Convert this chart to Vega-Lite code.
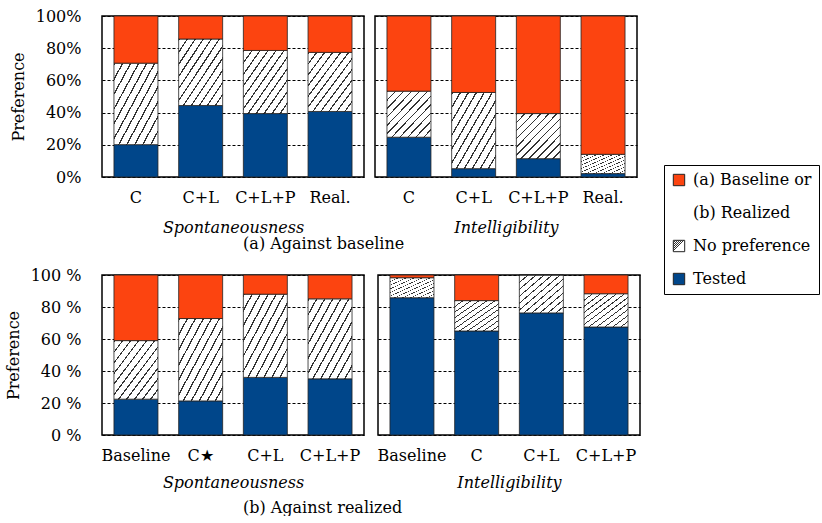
{
  "$schema": "https://vega.github.io/schema/vega-lite/v6.json",
  "padding": {"left": 4, "top": 7, "right": 0, "bottom": 0},
  "background": "white",
  "params": [
    {"name": "hatch", "expr": "{gradient: 'linear', x1: 0, y1: 0, x2: 1, y2: 1, stops: [{offset: 0, color: '#333'}, {offset: 0.0164, color: '#333'}, {offset: 0.0164, color: 'white'}, {offset: 0.0909, color: 'white'}, {offset: 0.0909, color: '#333'}, {offset: 0.1073, color: '#333'}, {offset: 0.1073, color: 'white'}, {offset: 0.1818, color: 'white'}, {offset: 0.1818, color: '#333'}, {offset: 0.1982, color: '#333'}, {offset: 0.1982, color: 'white'}, {offset: 0.2727, color: 'white'}, {offset: 0.2727, color: '#333'}, {offset: 0.2891, color: '#333'}, {offset: 0.2891, color: 'white'}, {offset: 0.3636, color: 'white'}, {offset: 0.3636, color: '#333'}, {offset: 0.38, color: '#333'}, {offset: 0.38, color: 'white'}, {offset: 0.4545, color: 'white'}, {offset: 0.4545, color: '#333'}, {offset: 0.4709, color: '#333'}, {offset: 0.4709, color: 'white'}, {offset: 0.5455, color: 'white'}, {offset: 0.5455, color: '#333'}, {offset: 0.5619, color: '#333'}, {offset: 0.5619, color: 'white'}, {offset: 0.6364, color: 'white'}, {offset: 0.6364, color: '#333'}, {offset: 0.6528, color: '#333'}, {offset: 0.6528, color: 'white'}, {offset: 0.7273, color: 'white'}, {offset: 0.7273, color: '#333'}, {offset: 0.7437, color: '#333'}, {offset: 0.7437, color: 'white'}, {offset: 0.8182, color: 'white'}, {offset: 0.8182, color: '#333'}, {offset: 0.8346, color: '#333'}, {offset: 0.8346, color: 'white'}, {offset: 0.9091, color: 'white'}, {offset: 0.9091, color: '#333'}, {offset: 0.9255, color: '#333'}, {offset: 0.9255, color: 'white'}, {offset: 1, color: 'white'}]}"}
  ],
  "datasets": {
    "prefs": [
      {"panel": "A1", "method": "C", "cat": "Tested", "o": 1, "p": 0.201},
      {"panel": "A1", "method": "C", "cat": "No preference", "o": 2, "p": 0.506},
      {"panel": "A1", "method": "C", "cat": "Baseline/Realized", "o": 3, "p": 0.293},
      {"panel": "A1", "method": "C+L", "cat": "Tested", "o": 1, "p": 0.444},
      {"panel": "A1", "method": "C+L", "cat": "No preference", "o": 2, "p": 0.413},
      {"panel": "A1", "method": "C+L", "cat": "Baseline/Realized", "o": 3, "p": 0.143},
      {"panel": "A1", "method": "C+L+P", "cat": "Tested", "o": 1, "p": 0.394},
      {"panel": "A1", "method": "C+L+P", "cat": "No preference", "o": 2, "p": 0.392},
      {"panel": "A1", "method": "C+L+P", "cat": "Baseline/Realized", "o": 3, "p": 0.214},
      {"panel": "A1", "method": "Real.", "cat": "Tested", "o": 1, "p": 0.407},
      {"panel": "A1", "method": "Real.", "cat": "No preference", "o": 2, "p": 0.367},
      {"panel": "A1", "method": "Real.", "cat": "Baseline/Realized", "o": 3, "p": 0.226},
      {"panel": "A2", "method": "C", "cat": "Tested", "o": 1, "p": 0.247},
      {"panel": "A2", "method": "C", "cat": "No preference", "o": 2, "p": 0.286},
      {"panel": "A2", "method": "C", "cat": "Baseline/Realized", "o": 3, "p": 0.467},
      {"panel": "A2", "method": "C+L", "cat": "Tested", "o": 1, "p": 0.052},
      {"panel": "A2", "method": "C+L", "cat": "No preference", "o": 2, "p": 0.473},
      {"panel": "A2", "method": "C+L", "cat": "Baseline/Realized", "o": 3, "p": 0.475},
      {"panel": "A2", "method": "C+L+P", "cat": "Tested", "o": 1, "p": 0.114},
      {"panel": "A2", "method": "C+L+P", "cat": "No preference", "o": 2, "p": 0.28},
      {"panel": "A2", "method": "C+L+P", "cat": "Baseline/Realized", "o": 3, "p": 0.606},
      {"panel": "A2", "method": "Real.", "cat": "Tested", "o": 1, "p": 0.021},
      {"panel": "A2", "method": "Real.", "cat": "No preference", "o": 2, "p": 0.12},
      {"panel": "A2", "method": "Real.", "cat": "Baseline/Realized", "o": 3, "p": 0.859},
      {"panel": "B1", "method": "Baseline", "cat": "Tested", "o": 1, "p": 0.224},
      {"panel": "B1", "method": "Baseline", "cat": "No preference", "o": 2, "p": 0.366},
      {"panel": "B1", "method": "Baseline", "cat": "Baseline/Realized", "o": 3, "p": 0.41},
      {"panel": "B1", "method": "C★", "cat": "Tested", "o": 1, "p": 0.213},
      {"panel": "B1", "method": "C★", "cat": "No preference", "o": 2, "p": 0.515},
      {"panel": "B1", "method": "C★", "cat": "Baseline/Realized", "o": 3, "p": 0.272},
      {"panel": "B1", "method": "C+L", "cat": "Tested", "o": 1, "p": 0.36},
      {"panel": "B1", "method": "C+L", "cat": "No preference", "o": 2, "p": 0.52},
      {"panel": "B1", "method": "C+L", "cat": "Baseline/Realized", "o": 3, "p": 0.12},
      {"panel": "B1", "method": "C+L+P", "cat": "Tested", "o": 1, "p": 0.351},
      {"panel": "B1", "method": "C+L+P", "cat": "No preference", "o": 2, "p": 0.5},
      {"panel": "B1", "method": "C+L+P", "cat": "Baseline/Realized", "o": 3, "p": 0.149},
      {"panel": "B2", "method": "Baseline", "cat": "Tested", "o": 1, "p": 0.858},
      {"panel": "B2", "method": "Baseline", "cat": "No preference", "o": 2, "p": 0.125},
      {"panel": "B2", "method": "Baseline", "cat": "Baseline/Realized", "o": 3, "p": 0.017},
      {"panel": "B2", "method": "C", "cat": "Tested", "o": 1, "p": 0.65},
      {"panel": "B2", "method": "C", "cat": "No preference", "o": 2, "p": 0.19},
      {"panel": "B2", "method": "C", "cat": "Baseline/Realized", "o": 3, "p": 0.16},
      {"panel": "B2", "method": "C+L", "cat": "Tested", "o": 1, "p": 0.763},
      {"panel": "B2", "method": "C+L", "cat": "No preference", "o": 2, "p": 0.237},
      {"panel": "B2", "method": "C+L", "cat": "Baseline/Realized", "o": 3, "p": 0},
      {"panel": "B2", "method": "C+L+P", "cat": "Tested", "o": 1, "p": 0.675},
      {"panel": "B2", "method": "C+L+P", "cat": "No preference", "o": 2, "p": 0.208},
      {"panel": "B2", "method": "C+L+P", "cat": "Baseline/Realized", "o": 3, "p": 0.117}
    ]
  },
  "vconcat": [
    {
      "title": {"text": "(a) Against baseline", "orient": "bottom", "anchor": "middle", "offset": 0},
      "spacing": 9,
      "resolve": {"scale": {"x": "independent"}},
      "hconcat": [
        {
          "width": 262, "height": 161,
          "data": {"name": "prefs"},
          "transform": [{"filter": "datum.panel === 'A1'"}],
          "mark": {"type": "bar", "strokeWidth": 0.8},
          "encoding": {
            "x": {"field": "method", "type": "nominal", "sort": null, "scale": {"paddingInner": 0.32, "paddingOuter": 0.185}, "axis": {"title": "Spontaneousness"}},
            "y": {"field": "p", "type": "quantitative", "stack": "zero", "scale": {"domain": [0, 1]}, "axis": {"title": "Preference", "labelExpr": "round(datum.value*10) % 2 === 0 ? round(datum.value*100) + '%' : ''"}},
            "fill": {"field": "cat", "type": "nominal", "scale": {"domain": ["Baseline/Realized", "(b) Realized", "No preference", "Tested"], "range": ["#FC4410", "transparent", {"expr": "hatch"}, "#00468A"]}, "legend": {"labelExpr": "datum.label === 'Baseline/Realized' ? '(a) Baseline or' : datum.label"}},
            "stroke": {"field": "cat", "type": "nominal", "scale": {"domain": ["Baseline/Realized", "(b) Realized", "No preference", "Tested"], "range": ["#222222", "transparent", "#222222", "#222222"]}, "legend": {"labelExpr": "datum.label === 'Baseline/Realized' ? '(a) Baseline or' : datum.label"}},
            "order": {"field": "o", "type": "quantitative"}
          }
        },
        {
          "width": 262, "height": 161,
          "data": {"name": "prefs"},
          "transform": [{"filter": "datum.panel === 'A2'"}],
          "mark": {"type": "bar", "strokeWidth": 0.8},
          "encoding": {
            "x": {"field": "method", "type": "nominal", "sort": null, "scale": {"paddingInner": 0.32, "paddingOuter": 0.185}, "axis": {"title": "Intelligibility"}},
            "y": {"field": "p", "type": "quantitative", "stack": "zero", "scale": {"domain": [0, 1]}, "axis": {"title": null, "labels": false}},
            "fill": {"field": "cat", "type": "nominal", "scale": {"domain": ["Baseline/Realized", "(b) Realized", "No preference", "Tested"], "range": ["#FC4410", "transparent", {"expr": "hatch"}, "#00468A"]}, "legend": {"labelExpr": "datum.label === 'Baseline/Realized' ? '(a) Baseline or' : datum.label"}},
            "stroke": {"field": "cat", "type": "nominal", "scale": {"domain": ["Baseline/Realized", "(b) Realized", "No preference", "Tested"], "range": ["#222222", "transparent", "#222222", "#222222"]}, "legend": {"labelExpr": "datum.label === 'Baseline/Realized' ? '(a) Baseline or' : datum.label"}},
            "order": {"field": "o", "type": "quantitative"}
          }
        }
      ]
    },
    {
      "title": {"text": "(b) Against realized", "orient": "bottom", "anchor": "middle", "offset": 9},
      "spacing": 11,
      "resolve": {"scale": {"x": "independent"}},
      "hconcat": [
        {
          "width": 262, "height": 160,
          "data": {"name": "prefs"},
          "transform": [{"filter": "datum.panel === 'B1'"}],
          "mark": {"type": "bar", "strokeWidth": 0.8},
          "encoding": {
            "x": {"field": "method", "type": "nominal", "sort": null, "scale": {"paddingInner": 0.32, "paddingOuter": 0.185}, "axis": {"title": "Spontaneousness", "titlePadding": 11}},
            "y": {"field": "p", "type": "quantitative", "stack": "zero", "scale": {"domain": [0, 1]}, "axis": {"title": "Preference", "labelExpr": "round(datum.value*10) % 2 === 0 ? round(datum.value*100) + ' %' : ''"}},
            "fill": {"field": "cat", "type": "nominal", "scale": {"domain": ["Baseline/Realized", "(b) Realized", "No preference", "Tested"], "range": ["#FC4410", "transparent", {"expr": "hatch"}, "#00468A"]}, "legend": {"labelExpr": "datum.label === 'Baseline/Realized' ? '(a) Baseline or' : datum.label"}},
            "stroke": {"field": "cat", "type": "nominal", "scale": {"domain": ["Baseline/Realized", "(b) Realized", "No preference", "Tested"], "range": ["#222222", "transparent", "#222222", "#222222"]}, "legend": {"labelExpr": "datum.label === 'Baseline/Realized' ? '(a) Baseline or' : datum.label"}},
            "order": {"field": "o", "type": "quantitative"}
          }
        },
        {
          "width": 262, "height": 160,
          "data": {"name": "prefs"},
          "transform": [{"filter": "datum.panel === 'B2'"}],
          "mark": {"type": "bar", "strokeWidth": 0.8},
          "encoding": {
            "x": {"field": "method", "type": "nominal", "sort": null, "scale": {"paddingInner": 0.32, "paddingOuter": 0.185}, "axis": {"title": "Intelligibility", "titlePadding": 11}},
            "y": {"field": "p", "type": "quantitative", "stack": "zero", "scale": {"domain": [0, 1]}, "axis": {"title": null, "labels": false}},
            "fill": {"field": "cat", "type": "nominal", "scale": {"domain": ["Baseline/Realized", "(b) Realized", "No preference", "Tested"], "range": ["#FC4410", "transparent", {"expr": "hatch"}, "#00468A"]}, "legend": {"labelExpr": "datum.label === 'Baseline/Realized' ? '(a) Baseline or' : datum.label"}},
            "stroke": {"field": "cat", "type": "nominal", "scale": {"domain": ["Baseline/Realized", "(b) Realized", "No preference", "Tested"], "range": ["#222222", "transparent", "#222222", "#222222"]}, "legend": {"labelExpr": "datum.label === 'Baseline/Realized' ? '(a) Baseline or' : datum.label"}},
            "order": {"field": "o", "type": "quantitative"}
          }
        }
      ]
    }
  ],
  "spacing": 14,
  "config": {
    "font": "DejaVu Serif",
    "view": {"stroke": "black", "strokeWidth": 1.5},
    "axis": {"labelFont": "DejaVu Serif", "titleFont": "DejaVu Serif", "labelFontSize": 16, "titleFontSize": 16, "labelColor": "black", "titleColor": "black", "titleFontWeight": "normal", "domain": false, "ticks": false},
    "axisX": {"labelAngle": 0, "labelPadding": 12, "titlePadding": 14, "titleFontStyle": "italic", "grid": false},
    "axisY": {"values": [0, 0.1, 0.2, 0.3, 0.4, 0.5, 0.6, 0.7, 0.8, 0.9, 1], "grid": true, "gridDash": [3, 2], "gridColor": "black", "gridOpacity": 1, "gridWidth": 1, "labelPadding": 21, "titlePadding": 9},
    "title": {"font": "DejaVu Serif", "fontSize": 16, "fontWeight": "normal", "color": "black"},
    "legend": {"orient": "none", "legendX": 562, "legendY": 149, "title": null, "symbolType": "square", "symbolSize": 130, "symbolStrokeWidth": 1, "labelFont": "DejaVu Serif", "labelFontSize": 16, "labelColor": "black", "strokeColor": "black", "padding": 7, "rowPadding": 17, "labelOffset": 6, "labelLimit": 200}
  }
}
